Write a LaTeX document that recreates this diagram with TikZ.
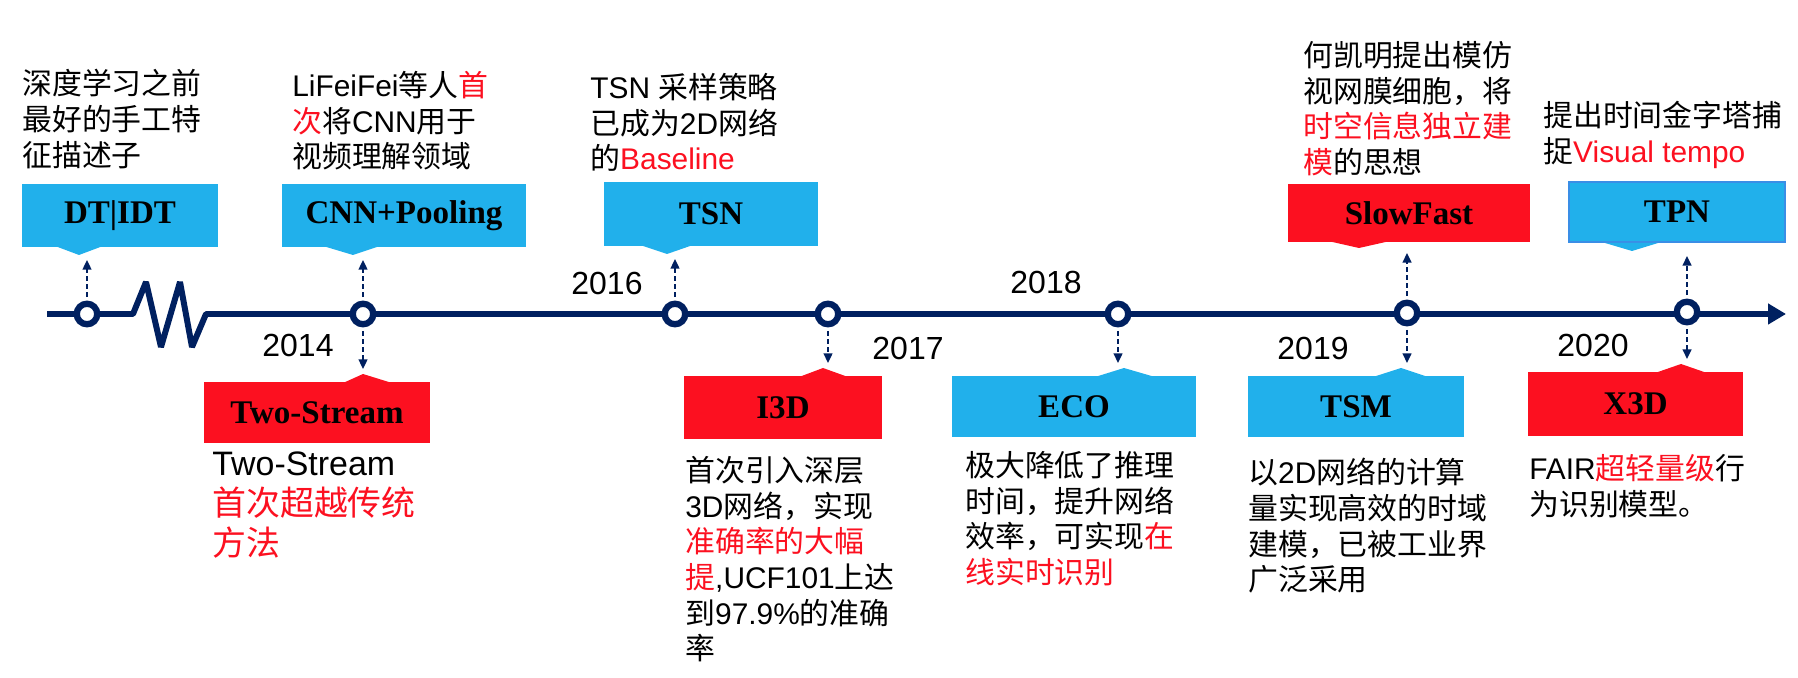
\documentclass[tikz,border=0pt]{standalone}
\usepackage{fontspec}
\setmainfont{Noto Sans CJK SC}
\newfontfamily\lat{Liberation Sans}
\newfontfamily\lbl{Liberation Serif}
\usepackage{tikz}
\usetikzlibrary{arrows.meta,calc}

\definecolor{navy}{RGB}{0,32,96}
\definecolor{cblue}{RGB}{33,176,235}
\definecolor{cred}{RGB}{252,16,32}
\definecolor{tpnedge}{RGB}{58,142,230}

\newcommand\redtxt[1]{\textcolor{cred}{#1}}
\newcommand\bodyfont{\fontsize{17}{20.3}\selectfont}
\newcommand\bigbody{\fontsize{19.3}{22.8}\selectfont}

\begin{document}
\begin{tikzpicture}[x=0.02cm, y=-0.02cm,
  >={Triangle[length=5.5pt,width=5pt]},
  tagbox/.style={minimum height=1.26cm, inner sep=0pt, font=\lbl\bfseries\fontsize{18.8}{20}\selectfont},
  bluebox/.style={tagbox, fill=cblue},
  redbox/.style={tagbox, fill=cred},
  yeardot/.style={circle, draw=navy, fill=white, line width=3.6pt, minimum size=0.41cm, inner sep=0pt},
  conn/.style={->, navy, line width=1.1pt, dash pattern=on 3pt off 1.6pt, shorten <=2pt, shorten >=0.1cm},
  axis/.style={navy, line width=3.4pt, line join=bevel},
  year/.style={font=\lat\fontsize{18.2}{20}\selectfont, inner sep=0pt},
  desc/.style={anchor=north west, align=left, inner sep=0pt, font=\bodyfont},
]
\useasboundingbox (0,0) rectangle (1798,678);

% ---------- timeline ----------
\coordinate (tstart) at (47,314);
\coordinate (tend) at (1786,314);
\draw[axis, -{Triangle[length=0.36cm,width=0.4cm]}] (tstart) -- (133,314) -- (146,282) -- (161,347)
  -- (180,282) -- (192,347) -- (206,314) -- (tend);

\node[yeardot] (cdt)   at (87,314)   {};
\node[yeardot] (ccnn)  at (363,314)  {};
\node[yeardot] (ctsn)  at (675,314)  {};
\node[yeardot] (ci3d)  at (828,314)  {};
\node[yeardot] (ceco)  at (1118,314) {};
\node[yeardot] (cslow) at (1407,313) {};
\node[yeardot] (ctpn)  at (1687,312) {};

\node[year] (y14) at (298,345)  {2014};
\node[year] (y16) at (607,283)  {2016};
\node[year] (y17) at (908,348)  {2017};
\node[year] (y18) at (1046,282) {2018};
\node[year] (y19) at (1313,348) {2019};
\node[year] (y20) at (1593,345) {2020};

% ---------- upper boxes ----------
\node[bluebox, minimum width=3.92cm] (dt) at (120,215.5) {DT|IDT};
\coordinate (dtp) at (79,255);
\fill[cblue] (55,246) -- (dtp) -- (103,246) -- cycle;

\node[bluebox, minimum width=4.88cm] (cnn) at (404,215.5) {CNN+Pooling};
\coordinate (cnnp) at (353,255);
\fill[cblue] (323,246) -- (cnnp) -- (380,246) -- cycle;

\node[bluebox, minimum width=4.28cm, minimum height=1.28cm] (tsn) at (711,214) {TSN};
\coordinate (tsnp) at (667,254);
\fill[cblue] (640,245) -- (tsnp) -- (693,245) -- cycle;

\node[redbox, minimum width=4.84cm, minimum height=1.16cm] (slowfast) at (1409,213) {SlowFast};
\coordinate (slowp) at (1359,248);
\fill[cred] (1328,241) -- (slowp) -- (1390,241) -- cycle;

\node[bluebox, draw=tpnedge, line width=1.2pt, minimum width=4.32cm, minimum height=1.2cm] (tpn) at (1677,212) {TPN};
\coordinate (tpnp) at (1632,251);
\fill[cblue] (1605,243) -- (tpnp) -- (1658,243) -- cycle;

% ---------- lower boxes ----------
\node[redbox, minimum width=4.52cm, minimum height=1.22cm] (twostream) at (317,412.5) {Two-Stream};
\coordinate (twop) at (363,374);
\fill[cred] (343,383) -- (twop) -- (392,383) -- cycle;

\node[redbox, minimum width=3.96cm] (i3d) at (783,407.5) {I3D};
\coordinate (i3dp) at (823,368);
\fill[cred] (799,377) -- (i3dp) -- (848,377) -- cycle;

\node[bluebox, minimum width=4.88cm, minimum height=1.22cm] (eco) at (1074,406.5) {ECO};
\coordinate (ecop) at (1124,368);
\fill[cblue] (1095,377) -- (ecop) -- (1155,377) -- cycle;

\node[bluebox, minimum width=4.32cm, minimum height=1.22cm] (tsm) at (1356,406.5) {TSM};
\coordinate (tsmp) at (1401,368);
\fill[cblue] (1373,377) -- (tsmp) -- (1428,377) -- cycle;

\node[redbox, minimum width=4.30cm, minimum height=1.28cm] (x3d) at (1635.5,404) {X3D};
\coordinate (x3dp) at (1681,364);
\fill[cred] (1655,373) -- (x3dp) -- (1707,373) -- cycle;

% ---------- dashed links ----------
\draw[conn] (cdt) -- (cdt |- dtp);
\draw[conn] (ccnn) -- (ccnn |- cnnp);
\draw[conn] (ccnn) -- (ccnn |- twop);
\draw[conn] (ctsn) -- (ctsn |- tsnp);
\draw[conn] (ci3d) -- (ci3d |- i3dp);
\draw[conn] (ceco) -- (ceco |- ecop);
\draw[conn] (cslow) -- (cslow |- slowp);
\draw[conn] (cslow) -- (cslow |- tsmp);
\draw[conn] (ctpn) -- (ctpn |- tpnp);
\draw[conn] (ctpn) -- (ctpn |- x3dp);

% ---------- descriptions ----------
\node[desc] (dtnote) at (22,69) {深度学习之前\\最好的手工特\\征描述子};
\node[desc] (cnnnote) at (292,71) {{\lat LiFeiFei}等人\redtxt{首}\\\redtxt{次}将{\lat CNN}用于\\视频理解领域};
\node[desc] (tsnnote) at (590,73) {{\lat TSN }采样策略\\已成为{\lat 2D}网络\\的\redtxt{\lat Baseline}};
\node[desc] (slownote) at (1303,41) {何凯明提出模仿\\视网膜细胞，将\\\redtxt{时空信息独立建}\\\redtxt{模}的思想};
\node[desc] (tpnnote) at (1543,101) {提出时间金字塔捕\\捉\redtxt{\lat Visual tempo}};

\node[desc, font=\bigbody] (twonote) at (212,451) {{\lat Two-Stream}\\\redtxt{首次超越传统}\\\redtxt{方法}};
\node[desc] (i3dnote) at (685,456) {首次引入深层\\{\lat 3D}网络，实现\\\redtxt{准确率的大幅}\\\redtxt{提}{\lat ,UCF101}上达\\到{\lat 97.9\%}的准确\\率};
\node[desc] (econote) at (965,451) {极大降低了推理\\时间，提升网络\\效率，可实现\redtxt{在}\\\redtxt{线实时识别}};
\node[desc] (tsmnote) at (1248,458) {以{\lat 2D}网络的计算\\量实现高效的时域\\建模，已被工业界\\广泛采用};
\node[desc] (x3dnote) at (1529,454) {{\lat FAIR}\redtxt{超轻量级}行\\为识别模型。};
\end{tikzpicture}
\end{document}
